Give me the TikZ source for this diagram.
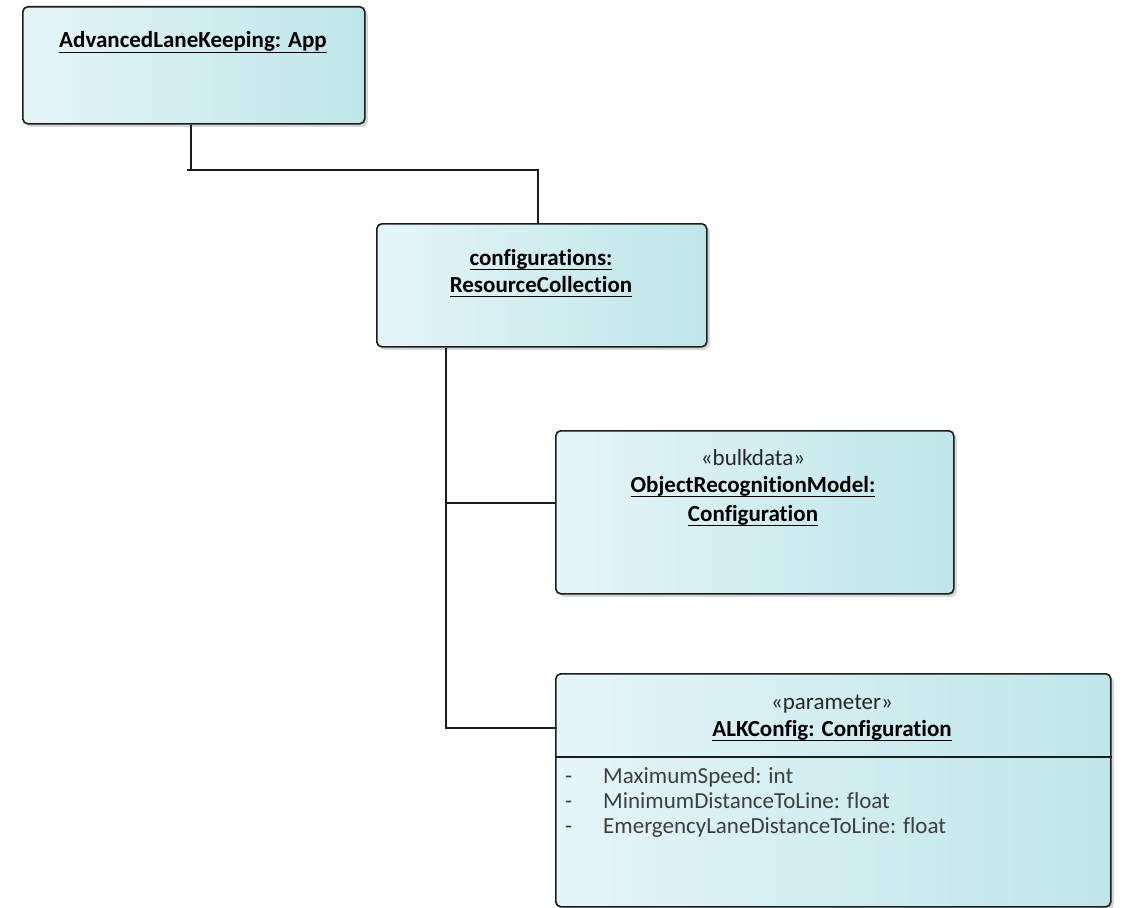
\documentclass[tikz,border=0pt]{standalone}
\usepackage{fontspec}
\setmainfont{Carlito}[Ligatures=NoCommon]
\usetikzlibrary{shadows,calc}
\definecolor{boxL}{RGB}{229,245,247}
\definecolor{boxR}{RGB}{190,230,233}
\definecolor{edge}{RGB}{28,28,28}
\definecolor{attr}{RGB}{62,62,62}
% bold title with a solid underline a few points below the baseline
\newcommand{\ultitle}[1]{\setbox0=\hbox{\bfseries #1}\dp0=0pt\vtop{\copy0\kern3.6pt\hrule height 1.5pt}}
\begin{document}
\begin{tikzpicture}[x=1pt,y=-1pt,
  objbox/.style={draw=edge, line width=1.6pt, rounded corners=5pt,
    left color=boxL, right color=boxR, anchor=north west, inner sep=0pt,
    drop shadow={shadow xshift=3pt, shadow yshift=-3pt, fill=black, opacity=0.16}},
  link/.style={draw=edge, line width=1.6pt},
  title/.style={font=\fontsize{23}{27}\selectfont, text=black, inner sep=0pt, anchor=base},
  stereo/.style={font=\fontsize{23}{27}\selectfont, text=black!85, inner sep=0pt, anchor=base},
  attrtext/.style={font=\fontsize{23}{27}\selectfont, text=attr, inner sep=0pt, anchor=base west}]
\useasboundingbox (0,0) rectangle (1123,907);

% object boxes
\node[objbox, minimum width=342pt, minimum height=117pt] (app) at (22,6) {};
\node[objbox, minimum width=330pt, minimum height=123pt] (coll) at (376,223) {};
\node[objbox, minimum width=398pt, minimum height=163pt] (orm) at (555,430) {};
\node[objbox, minimum width=555pt, minimum height=233pt] (alk) at (555,673) {};
\draw[link] (alk.west |- 0,757) coordinate (divL) -- (alk.east |- divL) coordinate (divR);

% titles
\node[title] (appT) at (193,48) {\ultitle{AdvancedLaneKeeping: App}};
\node[title] (collT1) at (541,265) {\ultitle{configurations:}};
\node[title] (collT2) at (541,292) {\ultitle{ResourceCollection}};
\node[stereo] (ormS) at (753,465) {«bulkdata»};
\node[title] (ormT1) at (753,492) {\ultitle{ObjectRecognitionModel:}};
\node[title] (ormT2) at (753,521) {\ultitle{Configuration}};
\node[stereo] (alkS) at (832,709) {«parameter»};
\node[title] (alkT) at (832,736) {\ultitle{ALKConfig: Configuration}};

% attributes
\node[attrtext] (d1) at (565,783) {-};
\node[attrtext] (d2) at (565,808) {-};
\node[attrtext] (d3) at (565,833) {-};
\node[attrtext] (a1) at (603,783) {MaximumSpeed: int};
\node[attrtext] (a2) at (603,808) {MinimumDistanceToLine: float};
\node[attrtext] (a3) at (603,833) {EmergencyLaneDistanceToLine: float};

% connectors
\coordinate (j1) at (191,170);
\coordinate (j1b) at (538,170);
\draw[link] (app.south -| j1) -- (j1);
\draw[link] ($(j1)+(-4,0)$) -- (j1b) -- (coll.north -| j1b);
\coordinate (trunk) at (446,0);
\draw[link] (coll.south -| trunk) -- (trunk |- 0,728) coordinate (j2) -- (alk.west |- j2);
\draw[link] (trunk |- 0,503) -- (orm.west |- 0,503);
\end{tikzpicture}
\end{document}
